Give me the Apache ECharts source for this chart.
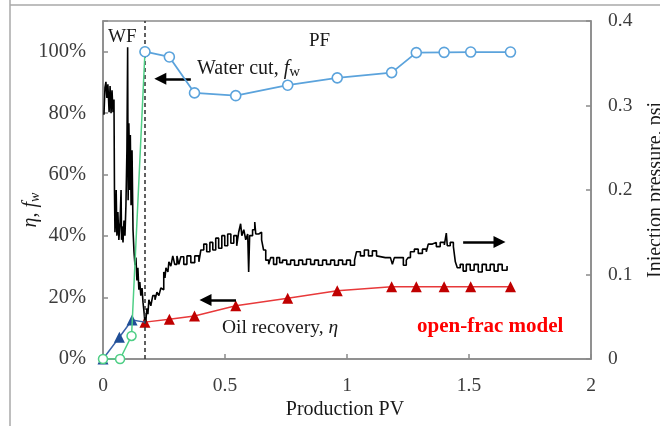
<!DOCTYPE html>
<html>
<head>
<meta charset="utf-8">
<script src="https://cdn.jsdelivr.net/npm/echarts@6/dist/echarts.min.js"></script>
<style>
  html, body { margin: 0; padding: 0; background: #fff; }
  #chart { width: 660px; height: 426px; }
</style>
</head>
<body>
<div id="chart"></div>
<script>
// Water-flood (WF) stage: water cut and oil recovery vs. produced pore volumes
const pvWaterCutWF = [0, 0.07, 0.117, 0.172];
const waterCutWF = [0, 0, 0.075, 1.0];
const pvRecoveryWF = [0, 0.067, 0.119, 0.171];
const recoveryWF = [0, 0.071, 0.127, 0.12];

// Polymer-flood (PF) stage, open-frac model
const pvPF = [0.172, 0.272, 0.375, 0.544, 0.757, 0.96, 1.183, 1.284, 1.398, 1.507, 1.67];
const waterCutPF = [1.0, 0.983, 0.866, 0.857, 0.891, 0.915, 0.932, 0.997, 0.998, 0.999, 0.999];
const recoveryPF = [0.12, 0.129, 0.14, 0.173, 0.198, 0.222, 0.235, 0.235, 0.235, 0.235, 0.235];

// Injection pressure record (psi)
const pvPressure = [
  0.004, 0.008, 0.012, 0.016, 0.020, 0.025, 0.029, 0.033, 0.037, 0.041, 0.045, 0.047,
  0.049, 0.053, 0.054, 0.057, 0.061, 0.065, 0.070, 0.074, 0.076, 0.078, 0.082, 0.086,
  0.090, 0.094, 0.098, 0.101, 0.103, 0.106, 0.110, 0.112, 0.115, 0.119, 0.123, 0.127,
  0.131, 0.135, 0.139, 0.143, 0.147, 0.151, 0.155, 0.160, 0.164, 0.168, 0.172, 0.176,
  0.180, 0.184, 0.188, 0.196, 0.204, 0.213, 0.221, 0.229, 0.237, 0.245, 0.249, 0.254,
  0.258, 0.266, 0.270, 0.278, 0.286, 0.294, 0.303, 0.311, 0.319, 0.331, 0.344, 0.360,
  0.376, 0.393, 0.401, 0.413, 0.425, 0.438, 0.450, 0.462, 0.474, 0.487, 0.499, 0.511,
  0.524, 0.536, 0.548, 0.556, 0.564, 0.569, 0.577, 0.585, 0.593, 0.597, 0.601, 0.613,
  0.622, 0.626, 0.638, 0.650, 0.658, 0.667, 0.679, 0.687, 0.699, 0.712, 0.724, 0.736,
  0.753, 0.769, 0.785, 0.802, 0.818, 0.834, 0.851, 0.867, 0.883, 0.900, 0.916, 0.933,
  0.949, 0.965, 0.982, 0.998, 1.014, 1.031, 1.039, 1.055, 1.071, 1.088, 1.104, 1.121,
  1.129, 1.157, 1.178, 1.186, 1.194, 1.219, 1.231, 1.243, 1.251, 1.260, 1.276, 1.292,
  1.309, 1.325, 1.333, 1.350, 1.366, 1.382, 1.399, 1.407, 1.411, 1.423, 1.436, 1.444,
  1.452, 1.464, 1.476, 1.489, 1.505, 1.521, 1.538, 1.554, 1.571, 1.587, 1.603, 1.619,
  1.636, 1.656
];
const pressure = [
  0.289, 0.321, 0.328, 0.309, 0.325, 0.292, 0.323, 0.291, 0.318, 0.292, 0.307, 0.200,
  0.150, 0.174, 0.200, 0.146, 0.174, 0.141, 0.162, 0.200, 0.141, 0.157, 0.138, 0.164,
  0.146, 0.182, 0.247, 0.369, 0.188, 0.279, 0.200, 0.265, 0.182, 0.247, 0.153, 0.127,
  0.111, 0.120, 0.093, 0.108, 0.082, 0.091, 0.075, 0.084, 0.067, 0.056, 0.043, 0.046,
  0.060, 0.053, 0.070, 0.063, 0.075, 0.070, 0.079, 0.075, 0.084, 0.082, 0.103, 0.096,
  0.108, 0.103, 0.115, 0.110, 0.122, 0.112, 0.122, 0.112, 0.121, 0.112, 0.122, 0.114,
  0.122, 0.115, 0.129, 0.136, 0.127, 0.138, 0.129, 0.143, 0.131, 0.146, 0.134, 0.148,
  0.137, 0.146, 0.134, 0.150, 0.160, 0.146, 0.153, 0.141, 0.148, 0.103, 0.146, 0.153,
  0.162, 0.148, 0.150, 0.141, 0.129, 0.117, 0.112, 0.120, 0.112, 0.120, 0.114, 0.117,
  0.112, 0.117, 0.111, 0.117, 0.112, 0.118, 0.112, 0.117, 0.111, 0.117, 0.112, 0.117,
  0.111, 0.117, 0.112, 0.117, 0.111, 0.117, 0.127, 0.122, 0.129, 0.122, 0.128, 0.122,
  0.120, 0.120, 0.120, 0.112, 0.120, 0.120, 0.111, 0.117, 0.120, 0.127, 0.130, 0.125,
  0.130, 0.127, 0.136, 0.138, 0.133, 0.138, 0.135, 0.149, 0.134, 0.138, 0.133, 0.115,
  0.108, 0.112, 0.104, 0.112, 0.105, 0.112, 0.103, 0.112, 0.105, 0.112, 0.104, 0.112,
  0.105, 0.110
];

// Boundary between the WF and PF stages
const pvSwitch = 0.172;

const xTicks = ['0', '0.5', '1', '1.5', '2'];

const serif = "'Liberation Serif', 'Times New Roman', serif";
const axisGray = '#8a8a8a';
const labelColor = '#3c3c3c';

const pairs = (xs, ys) => xs.map((x, i) => [x, ys[i]]);

const chart = echarts.init(document.getElementById('chart'), null, { renderer: 'canvas' });

const arrowLine = { color: '#000', width: 2.5, type: 'solid' };
const arrowMark = (from, to) => ({
  silent: true, symbol: ['none', 'triangle'], symbolSize: 12,
  lineStyle: arrowLine, itemStyle: { color: '#000' }, label: { show: false },
  data: [[{ coord: from }, { coord: to }]]
});

// The WF recovery curve ends where the PF curve starts; its last point carries no marker
const recoveryWFData = pairs(pvRecoveryWF, recoveryWF).map((p, i, a) =>
  i === a.length - 1 ? { value: p, symbol: 'none' } : p);

chart.setOption({
  animation: false,
  backgroundColor: '#fff',
  grid: {
    left: 103, right: 69, top: 21, bottom: 67,
    show: true, borderColor: axisGray, borderWidth: 1.5, backgroundColor: 'transparent'
  },
  xAxis: {
    type: 'value', min: 0, max: 2, interval: 0.5,
    axisLine: { lineStyle: { color: axisGray, width: 1.5 } },
    axisTick: { inside: true, length: 5, lineStyle: { color: axisGray, width: 1.5 } },
    splitLine: { show: false },
    axisLabel: {
      margin: 17, color: labelColor, fontFamily: serif, fontSize: 19.5,
      formatter: v => xTicks[Math.round(v / 0.5)]
    }
  },
  yAxis: [
    {
      type: 'value', min: 0, max: 1.1, interval: 0.2,
      axisLine: { show: true, lineStyle: { color: axisGray, width: 1.5 } },
      axisTick: { show: true, inside: true, length: 5, lineStyle: { color: axisGray, width: 1.5 } },
      splitLine: { show: false },
      axisLabel: {
        margin: 17, color: labelColor, fontFamily: serif, fontSize: 20.5,
        formatter: v => (v > 1.001 ? '' : Math.round(v * 100) + '%')
      }
    },
    {
      type: 'value', min: 0, max: 0.4, interval: 0.1, position: 'right',
      axisLine: { show: true, lineStyle: { color: axisGray, width: 1.5 } },
      axisTick: { show: true, inside: true, length: 5, lineStyle: { color: axisGray, width: 1.5 } },
      splitLine: { show: false },
      axisLabel: {
        margin: 17, color: labelColor, fontFamily: serif, fontSize: 19.5,
        formatter: v => (v === 0 ? '0' : String(+v.toFixed(1)))
      }
    }
  ],
  series: [
    {
      name: 'Oil recovery (PF)', type: 'line', yAxisIndex: 0, z: 3,
      data: pairs(pvPF, recoveryPF),
      symbol: 'triangle', symbolSize: 11,
      lineStyle: { color: '#e8393a', width: 1.5 },
      itemStyle: { color: '#c00000', borderWidth: 0 },
      markLine: arrowMark([0.545, 0.192], [0.42, 0.192])
    },
    {
      name: 'Injection pressure', type: 'line', yAxisIndex: 1, z: 4,
      data: pairs(pvPressure, pressure),
      step: 'end',
      showSymbol: false, symbol: 'none',
      lineStyle: { color: '#000', width: 1.6 },
      markLine: arrowMark([1.476, 0.1385], [1.625, 0.1385])
    },
    {
      name: 'Oil recovery (WF)', type: 'line', yAxisIndex: 0, z: 5,
      data: recoveryWFData,
      symbol: 'triangle', symbolSize: 11,
      lineStyle: { color: '#3a63a8', width: 1.5 },
      itemStyle: { color: '#1f4e96', borderWidth: 0 }
    },
    {
      name: 'Water cut (WF)', type: 'line', yAxisIndex: 0, z: 6,
      data: pairs(pvWaterCutWF, waterCutWF),
      symbol: 'circle', symbolSize: 9,
      lineStyle: { color: '#4fcf86', width: 1.5 },
      itemStyle: { color: '#fff', borderColor: '#4fcf86', borderWidth: 1.5 }
    },
    {
      name: 'Water cut (PF)', type: 'line', yAxisIndex: 0, z: 7,
      data: pairs(pvPF, waterCutPF),
      symbol: 'circle', symbolSize: 10,
      lineStyle: { color: '#5ba3dc', width: 1.8 },
      itemStyle: { color: '#fff', borderColor: '#5ba3dc', borderWidth: 1.6 },
      markLine: {
        silent: true, symbol: 'none', label: { show: false },
        lineStyle: { color: '#3a3a3a', width: 1.6, type: [4, 3] },
        data: [{ xAxis: pvSwitch }]
      }
    },
    {
      name: 'Water cut arrow', type: 'line', yAxisIndex: 0, z: 8,
      data: [], symbol: 'none',
      markLine: arrowMark([0.36, 0.912], [0.235, 0.912])
    }
  ],
  graphic: [
    // outer frame lines
    { type: 'line', shape: { x1: 10, y1: 0, x2: 10, y2: 426 }, style: { stroke: '#a8a8a8', lineWidth: 1.5 } },
    { type: 'line', shape: { x1: 10, y1: 5, x2: 660, y2: 5 }, style: { stroke: '#a8a8a8', lineWidth: 1.5 } },
    { type: 'text', x: 108, y: 37, style: { text: 'WF', font: `19px ${serif}`, fill: '#1a1a1a', verticalAlign: 'middle' } },
    { type: 'text', x: 309, y: 41, style: { text: 'PF', font: `19px ${serif}`, fill: '#1a1a1a', verticalAlign: 'middle' } },
    {
      type: 'text', x: 197, y: 69,
      style: {
        text: '{a|Water cut, }{f|f}{s|w}', verticalAlign: 'middle', fill: '#1a1a1a',
        rich: {
          a: { fontFamily: serif, fontSize: 20, lineHeight: 22, fill: '#1a1a1a' },
          f: { fontFamily: serif, fontSize: 20, fontStyle: 'italic', lineHeight: 22, fill: '#1a1a1a' },
          s: { fontFamily: serif, fontSize: 15, lineHeight: 13, verticalAlign: 'bottom', fill: '#1a1a1a' }
        }
      }
    },
    {
      type: 'text', x: 222, y: 328,
      style: {
        text: '{a|Oil recovery, }{e|η}', verticalAlign: 'middle', fill: '#1a1a1a',
        rich: {
          a: { fontFamily: serif, fontSize: 19.5, lineHeight: 22, fill: '#1a1a1a' },
          e: { fontFamily: serif, fontSize: 19.5, fontStyle: 'italic', lineHeight: 22, fill: '#1a1a1a' }
        }
      }
    },
    {
      type: 'text', x: 417, y: 327,
      style: { text: 'open-frac model', font: `bold 21px ${serif}`, fill: '#ff0000', verticalAlign: 'middle' }
    },
    {
      type: 'text', x: 345, y: 410,
      style: { text: 'Production PV', font: `20px ${serif}`, fill: '#1a1a1a', align: 'center', verticalAlign: 'middle' }
    },
    {
      type: 'text', x: 31, y: 210, rotation: Math.PI / 2,
      style: {
        text: '{e|η, }{f|f}{s|w}', align: 'center', verticalAlign: 'middle', fill: '#1a1a1a',
        rich: {
          e: { fontFamily: serif, fontSize: 20, fontStyle: 'italic', lineHeight: 22, fill: '#1a1a1a' },
          f: { fontFamily: serif, fontSize: 20, fontStyle: 'italic', lineHeight: 22, fill: '#1a1a1a' },
          s: { fontFamily: serif, fontSize: 14, fontStyle: 'italic', lineHeight: 12, verticalAlign: 'bottom', fill: '#1a1a1a' }
        }
      }
    },
    {
      type: 'text', x: 656, y: 190, rotation: Math.PI / 2,
      style: { text: 'Injection pressure, psi', font: `20px ${serif}`, fill: '#1a1a1a', align: 'center', verticalAlign: 'middle' }
    }
  ]
});
</script>
</body>
</html>
